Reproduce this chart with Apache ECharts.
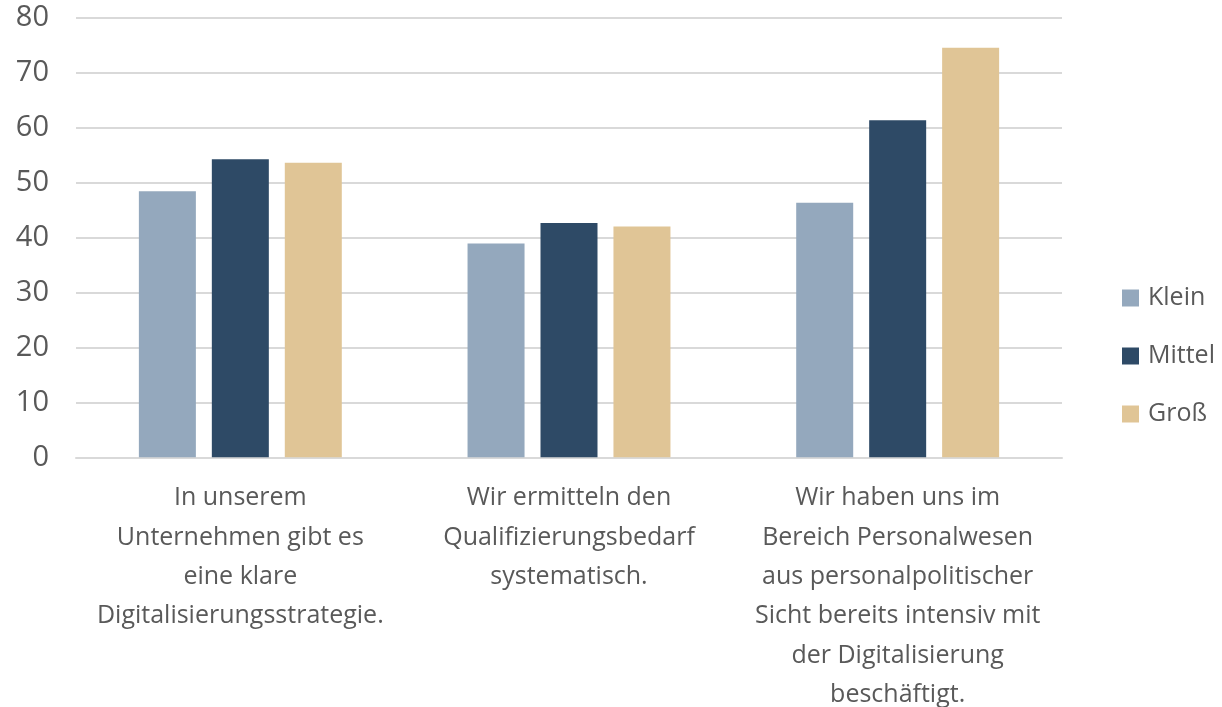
<!DOCTYPE html>
<html>
<head>
<meta charset="utf-8">
<script src="https://cdn.jsdelivr.net/npm/echarts@6/dist/echarts.min.js"></script>
<style>
  html, body { margin: 0; padding: 0; background: #fff; }
  #chart { width: 1222px; height: 707px; }
</style>
</head>
<body>
<div id="chart"></div>
<script>
const categories = [
  'In unserem\nUnternehmen gibt es\neine klare\nDigitalisierungsstrategie.',
  'Wir ermitteln den\nQualifizierungsbedarf\nsystematisch.',
  'Wir haben uns im\nBereich Personalwesen\naus personalpolitischer\nSicht bereits intensiv mit\nder Digitalisierung\nbeschäftigt.'
]
const klein = [48.4, 38.9, 46.3]
const mittel = [54.2, 42.6, 61.3]
const gross = [53.6, 42.0, 74.5]
const yTicks = [0, 10, 20, 30, 40, 50, 60, 70, 80]

const chart = echarts.init(document.getElementById('chart'))

const barStyle = color => ({ color: color })

chart.setOption({
  animation: false,
  textStyle: { fontFamily: 'Open Sans' },
  grid: {
    left: 76,
    right: 160,
    top: 17.5,
    bottom: 249.7,
    outerBoundsMode: 'none'
  },
  legend: {
    orient: 'vertical',
    left: 1117,
    top: 280,
    itemWidth: 17,
    itemHeight: 17,
    itemGap: 32,
    icon: 'rect',
    data: ['Klein', 'Mittel', 'Groß'],
    textStyle: {
      color: '#595959',
      fontSize: 25,
      lineHeight: 26,
      fontFamily: 'Open Sans',
      padding: [0, 0, 0, 4]
    }
  },
  xAxis: [{
    type: 'category',
    data: categories,
    axisTick: { show: false },
    axisLine: { lineStyle: { color: '#D9D9D9', width: 2 } },
    axisLabel: {
      color: '#595959',
      fontSize: 25,
      lineHeight: 39.4,
      margin: 21,
      interval: 0,
      fontFamily: 'Open Sans'
    }
  }],
  yAxis: [{
    type: 'value',
    min: yTicks[0],
    max: yTicks[yTicks.length - 1],
    interval: 10,
    axisTick: { show: false },
    axisLine: { show: false },
    splitLine: { lineStyle: { color: '#D9D9D9', width: 2 } },
    axisLabel: {
      color: '#595959',
      fontSize: 29,
      margin: 27,
      fontFamily: 'Open Sans'
    }
  }],
  series: [{
    name: 'Klein',
    type: 'bar',
    barWidth: 57,
    barGap: '28%',
    itemStyle: barStyle('#94A8BD'),
    data: klein
  }, {
    name: 'Mittel',
    type: 'bar',
    barWidth: 57,
    barGap: '28%',
    itemStyle: barStyle('#2E4A66'),
    data: mittel
  }, {
    name: 'Groß',
    type: 'bar',
    barWidth: 57,
    barGap: '28%',
    itemStyle: barStyle('#E0C596'),
    data: gross
  }]
})
</script>
</body>
</html>
